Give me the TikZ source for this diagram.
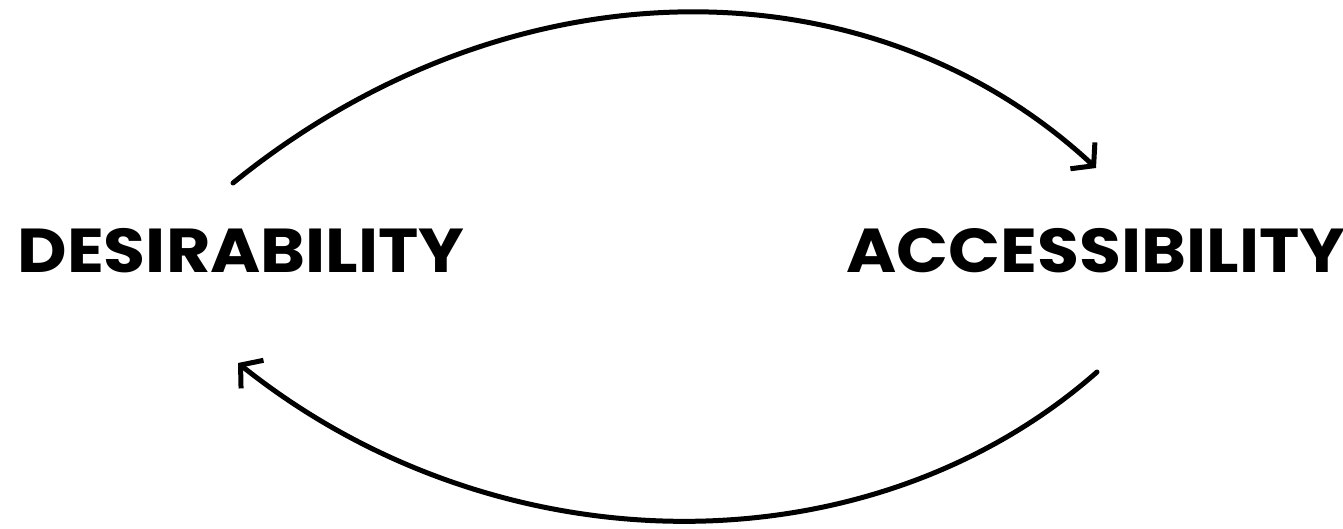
\documentclass[tikz,border=0pt]{standalone}
\usepackage{fontspec}
\setmainfont{Poppins}
\usetikzlibrary{arrows.meta}
\newcommand{\widetext}[1]{\scalebox{1.1}[1.0]{#1}}
\tikzset{
  lbl/.style={font=\fontsize{62}{62}\selectfont\bfseries, inner sep=0pt, anchor=center},
  arc/.style={line width=5pt, line cap=round, -{Straight Barb[length=15pt,width=36pt,line width=5pt]}}
}
\begin{document}
\begin{tikzpicture}[x=1pt,y=-1pt]
\useasboundingbox (0,0) rectangle (1343,528);
\node[lbl] (des) at (241,251) {\widetext{DESIRABILITY}};
\node[lbl] (acc) at (1096,251) {\widetext{ACCESSIBILITY}};
\coordinate (t1) at (233,183);
\coordinate (t2) at (1096,168);
\coordinate (b1) at (1097,372);
\coordinate (b2) at (238,363);
\draw[arc] (t1) .. controls (510,-42) and (870,-42) .. (t2);
\draw[arc] (b1) .. controls (870,572) and (500,572) .. (b2);
\end{tikzpicture}
\end{document}
